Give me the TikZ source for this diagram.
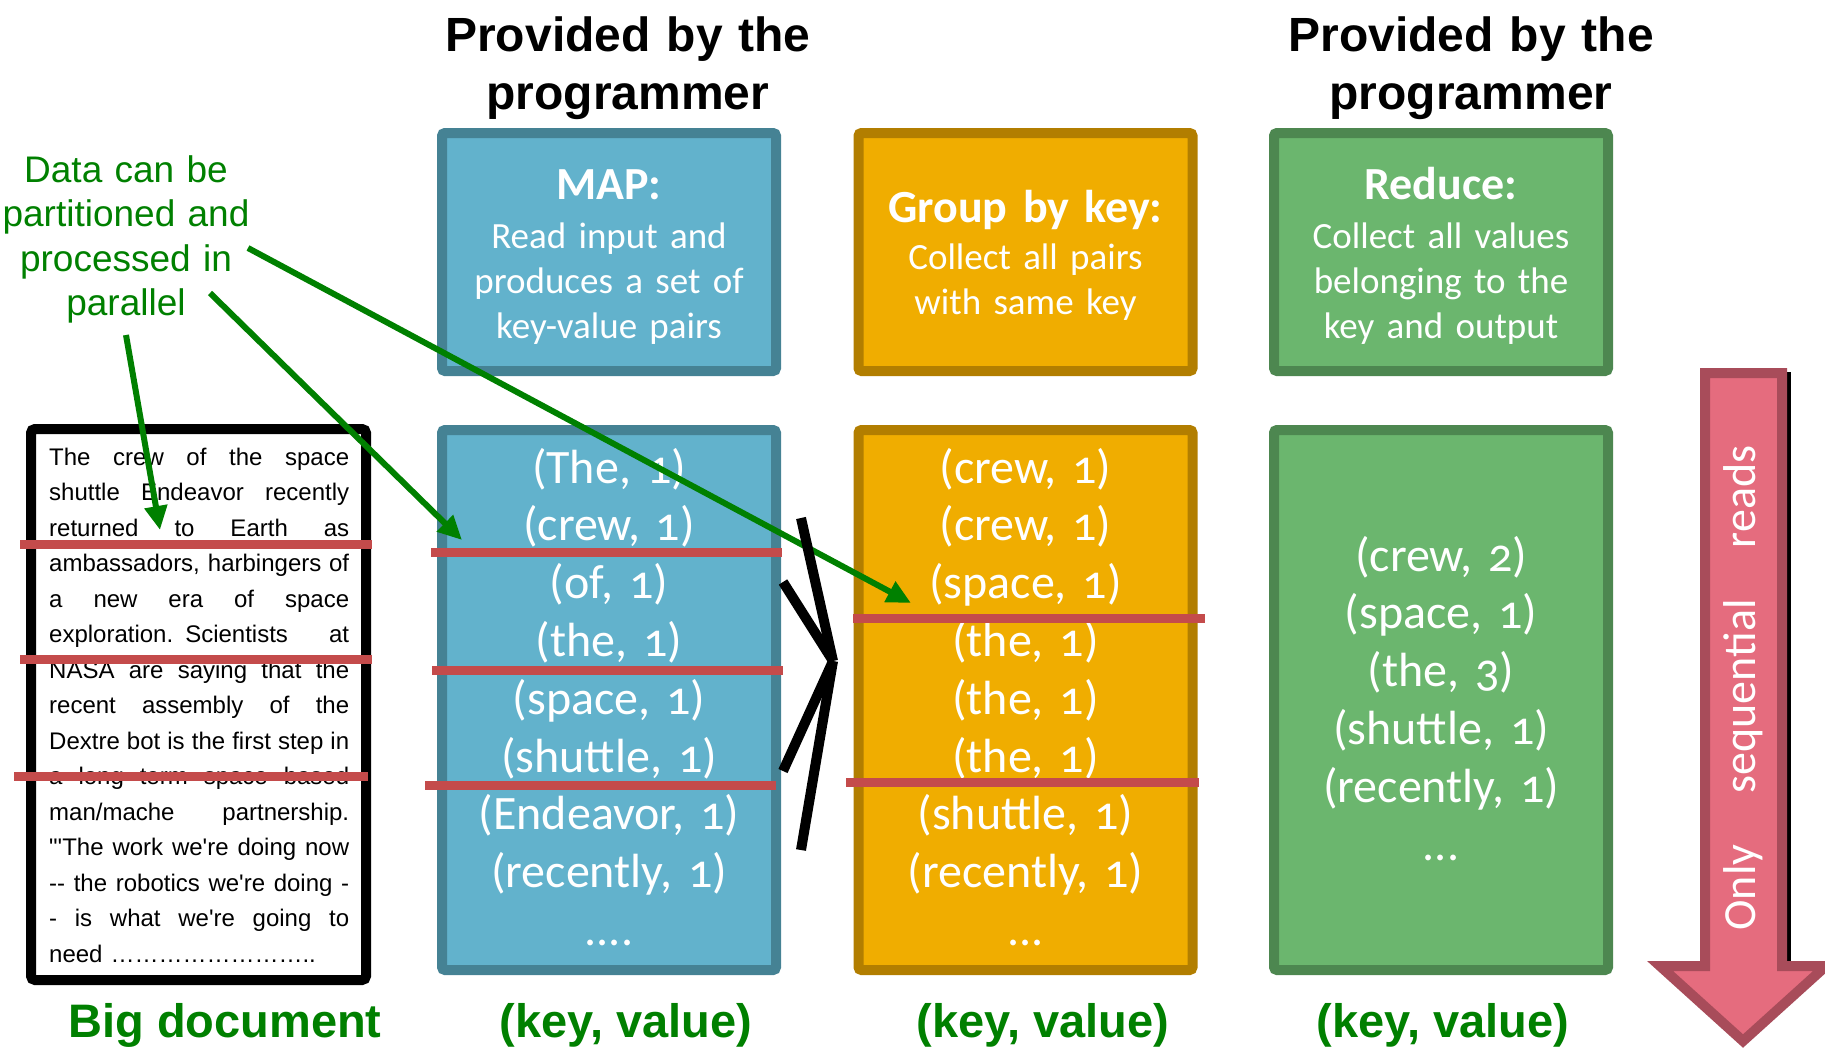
\documentclass[tikz,border=0pt]{standalone}
\usepackage{fontspec}
\usetikzlibrary{arrows.meta}
\newfontfamily\arialfont{Liberation Sans}
\newfontfamily\calfont{Carlito}[Numbers=OldStyle]
\definecolor{mapfill}{HTML}{62B2CC}
\definecolor{mapedge}{HTML}{458294}
\definecolor{grpfill}{HTML}{F0AD00}
\definecolor{grpedge}{HTML}{B27E00}
\definecolor{redfill}{HTML}{6BB66E}
\definecolor{rededge}{HTML}{4D8750}
\definecolor{cutred}{HTML}{C44B4B}
\definecolor{pinkfill}{HTML}{E56C7E}
\definecolor{pinkedge}{HTML}{A84C5A}
\definecolor{notegreen}{RGB}{0,128,0}
\newcommand\pairtop{483}
\newcommand\jline[1]{\makebox[300pt][s]{\spaceskip=0.278em plus 2em minus 0.12em\relax #1}}

\begin{document}
\begin{tikzpicture}[x=1pt, y=-1pt,
    stage/.style={draw, line width=10pt, rounded corners=3pt, minimum width=334pt, inner sep=0pt},
    topbox/.style={stage, minimum height=238pt},
    lowbox/.style={stage, minimum height=540pt},
    title/.style={anchor=base, text width=334pt, align=center, text=white, inner sep=0pt, font=\calfont\bfseries\fontsize{46}{50}\selectfont},
    blurb/.style={anchor=base, text width=334pt, align=center, text=white, inner sep=0pt, font=\calfont\fontsize{37}{45}\selectfont},
    pairs/.style={anchor=base, text width=334pt, align=center, text=white, inner sep=0pt, font=\calfont\fontsize{48}{57.8}\selectfont},
    header/.style={anchor=base, text width=420pt, align=center, inner sep=0pt, font=\arialfont\bfseries\fontsize{48}{58}\selectfont},
    kv/.style={anchor=base, inner sep=0pt, text=notegreen, font=\arialfont\bfseries\fontsize{47}{56}\selectfont},
    cut/.style={cutred, line width=9pt},
    merge/.style={line width=10pt},
    pointer/.style={notegreen, line width=6pt, -{Triangle[length=24pt,width=22pt]}}]
    \useasboundingbox (0,0) rectangle (1825,1053);

    \node at (628,51) [header] (hdmap) {Provided by the\\programmer};
    \node at (1471,51) [header] (hdreduce) {Provided by the\\programmer};

    \node at (126,182) [anchor=base, text width=260pt, align=center, inner sep=0pt, text=notegreen, font=\arialfont\fontsize{37}{44.5}\selectfont] (note) {Data can be\\partitioned and\\processed in\\parallel};

    %Top boxes
    \node at (609,252) [topbox, fill=mapfill, draw=mapedge] (map) {};
    \node at (1025.5,252) [topbox, fill=grpfill, draw=grpedge] (group) {};
    \node at (1441,252) [topbox, fill=redfill, draw=rededge] (reduce) {};

    \node at (609,199) [title] (maptitle) {MAP:};
    \node at (609,248) [blurb] (mapblurb) {Read input and\\produces a set of\\key-value pairs};
    \node at (1025.5,222) [title] (grouptitle) {Group by key:};
    \node at (1025.5,269) [blurb] (groupblurb) {Collect all pairs\\with same key};
    \node at (1441,199) [title] (reducetitle) {Reduce:};
    \node at (1441,248) [blurb] (reduceblurb) {Collect all values\\belonging to the\\key and output};

    %Lower boxes
    \node at (198.5,704.5) [draw, line width=10pt, fill=white, rounded corners=4pt, minimum width=335pt, minimum height=551pt] (doc) {};
    \node at (609,700) [lowbox, fill=mapfill, draw=mapedge] (mapout) {};
    \node at (1025.5,700) [lowbox, fill=grpfill, draw=grpedge] (groupout) {};
    \node at (1441,700) [lowbox, fill=redfill, draw=rededge] (reduceout) {};

    \node at (49,465) [anchor=base west, text width=300pt, inner sep=0pt, font=\arialfont\fontsize{24}{35.5}\selectfont] (doctext) {%
        \jline{The crew of the space}\\
        \jline{shuttle Endeavor recently}\\
        \jline{returned to Earth as}\\
        \jline{ambassadors, harbingers of}\\
        \jline{a new era of space}\\
        \jline{exploration. Scientists at}\\
        \jline{NASA are saying that the}\\
        \jline{recent assembly of the}\\
        \jline{Dextre bot is the first step in}\\
        \jline{a long term space based}\\
        \jline{man/mache partnership.}\\
        \jline{"'The work we're doing now}\\
        \jline{-- the robotics we're doing -}\\
        \jline{- is what we're going to}\\
        need ……………………..};

    \node at (609,\pairtop) [pairs] (mappairs) {(The, 1)\\(crew, 1)\\(of, 1)\\(the, 1)\\(space, 1)\\(shuttle, 1)\\(Endeavor, 1)\\(recently, 1)\\....};
    \node at (1025.5,\pairtop) [pairs] (grouppairs) {(crew, 1)\\(crew, 1)\\(space, 1)\\(the, 1)\\(the, 1)\\(the, 1)\\(shuttle, 1)\\(recently, 1)\\...};
    \node at (1441,571) [pairs] (reducepairs) {(crew, 2)\\(space, 1)\\(the, 3)\\(shuttle, 1)\\(recently, 1)\\...};

    %Splits
    \draw[cut] (20,544) -- (372,544);
    \draw[cut] (20,659) -- (372,659);
    \draw[cut] (14,776) -- (368,776);
    \draw[cut] (431,552) -- (782,552);
    \draw[cut] (432,670) -- (783,670);
    \draw[cut] (425,785) -- (776,785);
    \draw[cut] (853,618) -- (1205,618);
    \draw[cut] (846,782) -- (1199,782);

    \node at (225,1037) [kv] (biglabel) {Big document};
    \node at (626,1037) [kv] (mapkv) {(key, value)};
    \node at (1043,1037) [kv] (groupkv) {(key, value)};
    \node at (1443,1037) [kv] (reducekv) {(key, value)};

    %Pointers
    \coordinate (n1) at (126,335);
    \coordinate (n2) at (210,293);
    \coordinate (n3) at (248,248);
    \coordinate (t1) at (160,530);
    \coordinate (t2) at (462,540);
    \coordinate (t3) at (911,603);
    \draw[pointer] (n1) -- (t1);
    \draw[pointer] (n2) -- (t2);
    \draw[pointer] (n3) -- (t3);

    %Shuffle
    \coordinate (j) at (833,661);
    \coordinate (m1) at (801,518);
    \coordinate (m2) at (783,582);
    \coordinate (m3) at (783,771);
    \coordinate (m4) at (801,850);
    \draw[merge] (m1) -- (j);
    \draw[merge] (m2) -- (j);
    \draw[merge] (j) -- (m3);
    \draw[merge] (j) -- (m4);

    %Sequential arrow
    \fill[black] (1784,372) rectangle (1791,962);
    \draw[pinkedge, fill=pinkfill, line width=10pt] (1705,373) -- (1782,373) -- (1782,966) -- (1826,966) -- (1743,1041) -- (1660,966) -- (1705,966) -- cycle;
    \node at (1743,688) [rotate=90, text=white, inner sep=0pt, font=\calfont\fontsize{46}{50}\selectfont] (seq) {\makebox[485pt][s]{Only sequential reads}};

\end{tikzpicture}
\end{document}
